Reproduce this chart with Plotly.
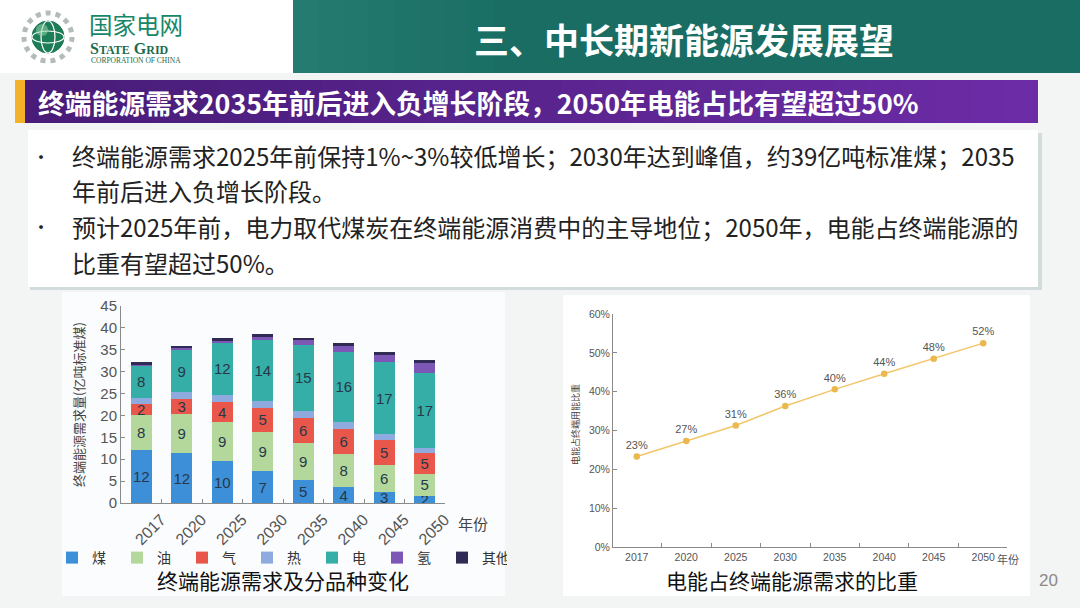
import plotly.graph_objects as go

W, H = 1080, 608

def px(x):
    return x / W

def py(y):
    return 1 - y / H

# ---- data ----
YEARS = ["2017", "2020", "2025", "2030", "2035", "2040", "2045", "2050"]
COAL = [12.0, 11.4, 9.5, 7.2, 5.2, 3.6, 2.5, 1.7]
OIL = [8.1, 9.0, 8.9, 9.1, 8.5, 7.6, 6.2, 5.0]
GAS = [2.5, 3.4, 4.6, 5.4, 5.7, 5.7, 5.7, 4.8]
HEAT = [1.5, 1.5, 1.7, 1.6, 1.6, 1.5, 1.3, 1.0]
ELEC = [7.4, 9.7, 11.9, 13.9, 15.2, 16.2, 16.4, 17.1]
HYDROGEN = [0.2, 0.3, 0.5, 0.8, 1.0, 1.3, 1.7, 2.3]
OTHER = [0.4, 0.5, 0.5, 0.7, 0.6, 0.6, 0.8, 0.8]
COAL_LBL = ["12", "12", "10", "7", "5", "4", "3", "2"]
OIL_LBL = ["8", "9", "9", "9", "9", "8", "6", "5"]
GAS_LBL = ["2", "3", "4", "5", "6", "6", "5", "5"]
ELEC_LBL = ["8", "9", "12", "14", "15", "16", "17", "17"]

SHARE = [23.3, 27.3, 31.3, 36.3, 40.6, 44.6, 48.5, 52.5]
SHARE_LBL = ["23%", "27%", "31%", "36%", "40%", "44%", "48%", "52%"]

BULLETS = [
    "终端能源需求2025年前保持1%~3%较低增长；2030年达到峰值，约39亿吨标准煤；2035",
    "年前后进入负增长阶段。",
    "预计2025年前，电力取代煤炭在终端能源消费中的主导地位；2050年，电能占终端能源的",
    "比重有望超过50%。",
]

CJK = "Noto Sans CJK SC"
NUM = "Liberation Sans"

fig = go.Figure()

series = [
    ("煤", COAL, "#3d8fd8", COAL_LBL),
    ("油", OIL, "#b4d89c", OIL_LBL),
    ("气", GAS, "#e9574b", GAS_LBL),
    ("热", HEAT, "#8eaadf", None),
    ("电", ELEC, "#35aea8", ELEC_LBL),
    ("氢", HYDROGEN, "#7d57b5", None),
    ("其他", OTHER, "#2f2b55", None),
]
for name, vals, col, lbl in series:
    fig.add_trace(go.Bar(
        x=YEARS, y=vals, name=name, marker=dict(color=col, line=dict(width=0)),
        text=lbl, textposition="inside" if lbl else "none",
        insidetextanchor="middle", textangle=0,
        textfont=dict(family=NUM, size=15, color="#26384a"),
        xaxis="x", yaxis="y"))

fig.add_trace(go.Scatter(
    x=YEARS, y=SHARE, mode="lines+markers+text", text=SHARE_LBL,
    textposition="top center", textfont=dict(family=NUM, size=11, color="#555"),
    line=dict(color="#f2c66a", width=1.5),
    marker=dict(color="#eab84e", size=6.5),
    showlegend=False, xaxis="x2", yaxis="y2", cliponaxis=False))

shapes = []
# header bar
shapes.append(dict(type="rect", xref="paper", yref="paper", x0=px(293), x1=1,
                   y0=py(73), y1=1, fillcolor="#196d63", line_width=0, layer="below"))
for i in range(8):
    shapes.append(dict(type="rect", xref="paper", yref="paper",
                       x0=px(293 + i * 25), x1=px(293 + (i + 1) * 25), y0=py(73), y1=1,
                       fillcolor="rgba(60,150,135,%.2f)" % (0.35 - i * 0.04),
                       line_width=0, layer="below"))
shapes.append(dict(type="rect", xref="paper", yref="paper", x0=0, x1=px(293),
                   y0=py(73), y1=1, fillcolor="white", line_width=0, layer="below"))
# purple banner with stepped gradient
n = 30
for i in range(n):
    t = i / (n - 1)
    r = int(0x48 + t * (0x6c - 0x48))
    g = int(0x1c + t * (0x2c - 0x1c))
    b = int(0x78 + t * (0xa6 - 0x78))
    x0 = 15 + i * (1038 - 15) / n
    x1 = 15 + (i + 1) * (1038 - 15) / n + 1
    shapes.append(dict(type="rect", xref="paper", yref="paper", x0=px(x0), x1=px(min(x1, 1038)),
                       y0=py(123), y1=py(80), fillcolor="rgb(%d,%d,%d)" % (r, g, b),
                       line_width=0, layer="below"))
shapes.append(dict(type="rect", xref="paper", yref="paper", x0=px(15), x1=px(25),
                   y0=py(123), y1=py(80), fillcolor="#f2b32a", line_width=0, layer="below"))
# text box with shadow
shapes.append(dict(type="rect", xref="paper", yref="paper", x0=px(30), x1=px(1042),
                   y0=py(290), y1=py(133), fillcolor="#d3dcdc", line_width=0, layer="below"))
shapes.append(dict(type="rect", xref="paper", yref="paper", x0=px(28), x1=px(1038),
                   y0=py(287), y1=py(130), fillcolor="white", line_width=0, layer="below"))
# chart image backgrounds
shapes.append(dict(type="rect", xref="paper", yref="paper", x0=px(62), x1=px(505),
                   y0=py(596), y1=py(292), fillcolor="#fbfcfd", line_width=0, layer="below"))
shapes.append(dict(type="rect", xref="paper", yref="paper", x0=px(563), x1=px(1030),
                   y0=py(596), y1=py(295), fillcolor="white", line_width=0, layer="below"))
# logo globe (ring of small text suggested by a grey ring)
shapes.append(dict(type="circle", xref="paper", yref="paper", x0=px(24), x1=px(72),
                   y0=py(61), y1=py(13), line=dict(color="#b4bcb8", width=5, dash="dot"),
                   fillcolor="white", layer="below"))
shapes.append(dict(type="circle", xref="paper", yref="paper", x0=px(32), x1=px(64),
                   y0=py(53), y1=py(21), line=dict(color="#15704f", width=1),
                   fillcolor="#1d7d57", layer="below"))
shapes.append(dict(type="circle", xref="paper", yref="paper", x0=px(41), x1=px(55),
                   y0=py(53), y1=py(21), line=dict(color="white", width=1.2),
                   fillcolor="rgba(0,0,0,0)", layer="below"))
shapes.append(dict(type="circle", xref="paper", yref="paper", x0=px(32), x1=px(64),
                   y0=py(43), y1=py(31), line=dict(color="white", width=1.2),
                   fillcolor="rgba(0,0,0,0)", layer="below"))
shapes.append(dict(type="circle", xref="paper", yref="paper", x0=px(36), x1=px(48),
                   y0=py(36), y1=py(24), line_width=0,
                   fillcolor="rgba(150,210,170,0.55)", layer="below"))

ann = []
ann.append(dict(text="<b>三、中长期新能源发展展望</b>", x=px(684), y=py(38),
                font=dict(family=CJK, size=35, color="white")))
ann.append(dict(text="<b>终端能源需求2035年前后进入负增长阶段，2050年电能占比有望超过50%</b>",
                x=px(36), y=py(102), xanchor="left",
                font=dict(family=CJK, size=26.8, color="white")))
ann.append(dict(text="国家电网", x=px(87), y=py(24), xanchor="left",
                font=dict(family=CJK, size=23.5, color="#17876a")))
ann.append(dict(text="<b>S<span style='font-size:12px'>TATE</span> G<span style='font-size:12px'>RID</span></b>",
                x=px(88), y=py(48), xanchor="left",
                font=dict(family="Liberation Serif", size=16, color="#1c6b50")))
ann.append(dict(text="CORPORATION OF CHINA", x=px(89), y=py(61), xanchor="left",
                font=dict(family="Liberation Serif", size=7.5, color="#1c6b50")))
for i, line in enumerate(BULLETS):
    yy = [156, 190, 226, 262][i]
    ann.append(dict(text=line, x=px(70), y=py(yy), xanchor="left",
                    font=dict(family=CJK, size=24, color="#222")))
for yy in (156, 226):
    ann.append(dict(text="•", x=px(41), y=py(yy),
                    font=dict(family=CJK, size=18, color="#222")))
ann.append(dict(text="终端能源需求量(亿吨标准煤)", x=px(78), y=py(404), textangle=-90,
                font=dict(family=CJK, size=13, color="#444")))
ann.append(dict(text="年份", x=px(473), y=py(523),
                font=dict(family=CJK, size=15, color="#444")))
ann.append(dict(text="电能占终端用能比重", x=px(575), y=py(425), textangle=-90,
                font=dict(family=CJK, size=9, color="#444")))
ann.append(dict(text="年份", x=px(1008), y=py(559),
                font=dict(family=CJK, size=11, color="#555")))
ann.append(dict(text="终端能源需求及分品种变化", x=px(283), y=py(580),
                font=dict(family=CJK, size=21, color="#111")))
ann.append(dict(text="电能占终端能源需求的比重", x=px(792), y=py(580),
                font=dict(family=CJK, size=21, color="#111")))
ann.append(dict(text="20", x=px(1048), y=py(580),
                font=dict(family=NUM, size=17, color="#8a8a8a")))
for a in ann:
    a.setdefault("xref", "paper")
    a.setdefault("yref", "paper")
    a.setdefault("xanchor", "center")
    a.setdefault("yanchor", "middle")
    a.setdefault("showarrow", False)

axis_common = dict(showline=True, linecolor="#8a8a8a", linewidth=1, showgrid=False,
                   zeroline=False, ticks="inside", tickcolor="#8a8a8a", fixedrange=True,
                   automargin=False)

fig.update_layout(
    width=W, height=H, autosize=False,
    margin=dict(l=0, r=0, t=0, b=0, pad=0, autoexpand=False),
    paper_bgcolor="#f3f4f4", plot_bgcolor="rgba(0,0,0,0)",
    barmode="stack", bargap=0.48,
    uniformtext=dict(minsize=15, mode="show"),
    font=dict(family=CJK, color="#444"),
    shapes=shapes, annotations=ann,
    xaxis=dict(domain=[px(121), px(445)], anchor="y", type="category",
               tickson="boundaries", ticklen=4, tickangle=-45, ticklabelshift=20,
               tickfont=dict(family=NUM, size=16, color="#555"), **axis_common),
    yaxis=dict(domain=[py(503), py(306)], anchor="x", range=[0, 45], dtick=5,
               ticklen=4, tickfont=dict(family=NUM, size=15, color="#555"), **axis_common),
    xaxis2=dict(domain=[px(613), px(1007)], anchor="y2", type="category",
                tickson="boundaries", ticklen=4,
                tickfont=dict(family=NUM, size=10.5, color="#555"), **axis_common),
    yaxis2=dict(domain=[py(547), py(314)], anchor="x2", range=[0, 60], dtick=10,
                ticksuffix="%", ticklen=4,
                tickfont=dict(family=NUM, size=10.5, color="#555"), **axis_common),
    legend=dict(orientation="h", x=px(52), y=py(558), xanchor="left", yanchor="middle",
                font=dict(family=CJK, size=14, color="#333"), entrywidth=20,
                entrywidthmode="pixels", bgcolor="rgba(0,0,0,0)", traceorder="normal"),
)

# page body has a default 8px margin; drop it so the slide sits at the window's corner
fig.write_html("out.html", config={"displayModeBar": False},
               post_script="document.body.style.margin='0px';"
                           "document.body.style.overflow='hidden';")
